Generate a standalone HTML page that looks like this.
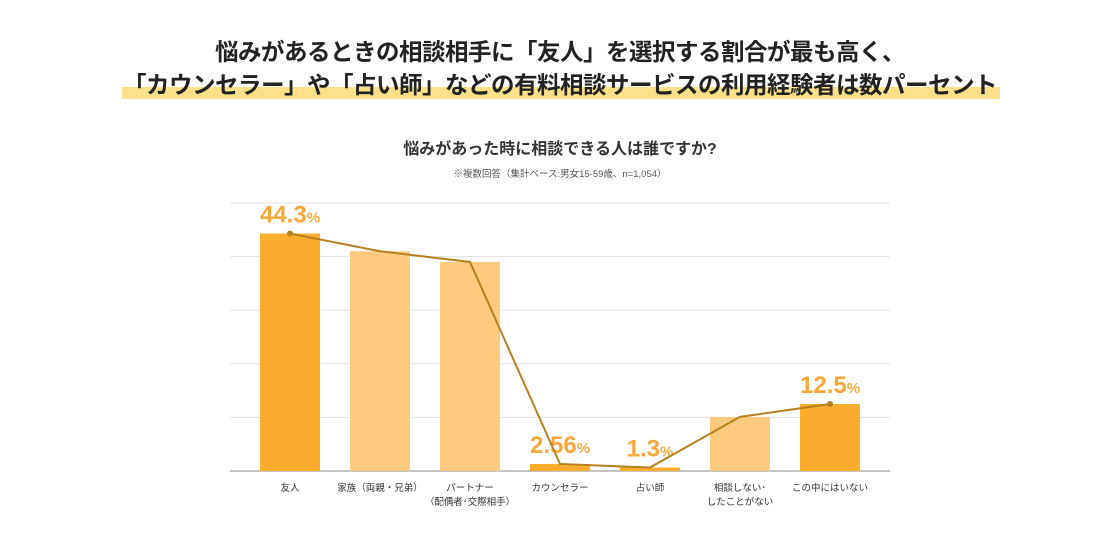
<!DOCTYPE html>
<html><head><meta charset="utf-8">
<style>
body{margin:0;background:#fff;width:1120px;height:550px;overflow:hidden;font-family:"Liberation Sans","Noto Sans CJK JP",sans-serif;}
.t{position:absolute;left:0;width:1120px;text-align:center;font-weight:bold;color:#222;}
</style></head><body>
<div style="position:absolute;left:122px;top:87px;width:878px;height:12px;background:#fde08a;"></div>
<div class="t" style="top:33px;font-size:23.5px;letter-spacing:-0.5px;">悩みがあるときの相談相手に「友人」を選択する割合が最も高く、</div>
<div class="t" style="top:66px;font-size:23.5px;letter-spacing:-0.5px;">「カウンセラー」や「占い師」などの有料相談サービスの利用経験者は数パーセント</div>
<div class="t" style="top:135px;font-size:16px;font-weight:bold;color:#333;">悩みがあった時に相談できる人は誰ですか?</div>
<div class="t" style="top:166px;font-size:9.5px;font-weight:normal;color:#555;">※複数回答（集計ベース:男女15-59歳、n=1,054）</div>
<svg id="c" width="1120" height="550" style="position:absolute;left:0;top:0"></svg>
<script>
const categories=["友人","家族（両親・兄弟）","パートナー|（配偶者･交際相手）","カウンセラー","占い師","相談しない･|したことがない","この中にはいない"];
const values=[44.3,41.0,39.0,1.3,0.65,10.1,12.5];
const highlight=[true,false,false,true,true,false,true];
const labels=["44.3","","","2.56","1.3","","12.5"];
const ticks=[0,10,20,30,40,50];
const svg=document.getElementById('c');const NS='http://www.w3.org/2000/svg';
const x0=230,x1=890,y0=471,scale=5.36;
const y=v=>y0-v*scale;const cx=i=>290+i*90;
function mk(t,a){const e=document.createElementNS(NS,t);for(const k in a)e.setAttribute(k,a[k]);svg.appendChild(e);return e;}
ticks.forEach(t=>{const l=mk('line',{x1:x0,x2:x1,y1:y(t),y2:y(t),stroke:t==0?'#888':'#e2e2e2','stroke-width':1});

});
values.forEach((v,i)=>{const r=mk('rect',{x:cx(i)-30,y:y(v),width:60,height:v*scale,fill:highlight[i]?'#fbae2e':'#fdcb80'});


const parts=categories[i].split('|');parts.forEach((p,j)=>{const t=mk('text',{x:cx(i),y:491+j*14,'text-anchor':'middle','font-size':9.5,fill:'#333'});t.textContent=p;

});
if(labels[i]){const t=mk('text',{x:cx(i),y:y(v)-11,'text-anchor':'middle','font-size':24,'font-weight':'bold',fill:'#f8a93a'});


t.innerHTML=labels[i]+'<tspan font-size="15">%</tspan>';}});
const pl=mk('polyline',{points:values.map((v,i)=>cx(i)+','+y(v)).join(' '),fill:'none',stroke:'#b5801f','stroke-width':2});


[0,values.length-1].forEach(i=>{const c=mk('circle',{cx:cx(i),cy:y(values[i]),r:3,fill:'#b5801f'});

});
</script>
</body></html>
